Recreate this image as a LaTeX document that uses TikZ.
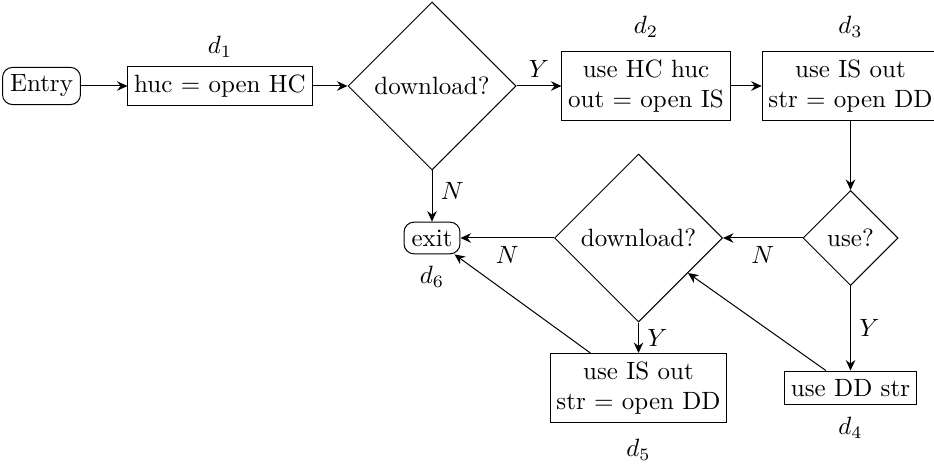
\documentclass[tikz,border=0pt]{standalone}
\usetikzlibrary{arrows.meta,positioning,shapes.geometric}

\begin{document}
\begin{tikzpicture}[
        on grid,
        term/.style={rectangle, draw, rounded corners=4pt, inner sep=3pt},  % entry and exit
        act/.style={rectangle, draw, align=center, inner xsep=2.5pt, inner ysep=3.3pt},
        ask/.style={diamond, draw, aspect=1, inner sep=0pt, minimum size=67.2pt},
        >={Stealth[length=4.2pt, width=3.8pt, inset=1.4pt]},
    ]
        \useasboundingbox (-16.6pt,34.4pt) rectangle (357pt,-152.4pt);

        %Nodes
        \node[term] (Entry) {Entry};
        \node[act] (Open) [right=71.4pt of Entry] {huc = open HC};
        \node[ask] (Ask) [right=84.8pt of Open] {download?};
        \node[act] (UseHC) [right=85.6pt of Ask] {use HC huc\\ out = open IS};
        \node[act] (UseIS) [right=81.8pt of UseHC] {use IS out\\ str = open DD};
        \node[ask, minimum size=38pt] (AskUse) [below=60.8pt of UseIS] {use?};
        \node[ask] (AskAgain) [left=84.8pt of AskUse] {download?};
        \node[term] (Exit) at (Ask |- AskAgain) {exit};
        \node[act] (UseISAgain) [below=60pt of AskAgain] {use IS out\\ str = open DD};
        \node[act] (UseDD) [below=60pt of AskUse] {use DD str};

        % Labels
        \node (D1) [above=15.6pt of Open] {$d_1$};
        \node (D2) [above=23.6pt of UseHC] {$d_2$};
        \node (D3) [above=23.6pt of UseIS] {$d_3$};
        \node (D4) [below=16pt of UseDD] {$d_4$};
        \node (D5) [below=24.8pt of UseISAgain] {$d_5$};
        \node (D6) [below=15.6pt of Exit] {$d_6$};

        %Lines
        \draw[->] (Entry.east) to (Open.west);
        \draw[->] (Open.east) to (Ask.west);
        \draw[->] (Ask.east) to node[above] {$Y$} (UseHC.west);
        \draw[->] (UseHC.east) to (UseIS.west);
        \draw[->] (UseIS.south) to (AskUse.north);
        \draw[->] (Ask.south) to node[right, pos=0.4] {$N$} (Exit.north);
        \draw[->] (AskUse.west) to node[below] {$N$} (AskAgain.east);
        \draw[->] (AskUse.south) to node[right] {$Y$} (UseDD.north);
        \draw[->] (AskAgain.west) to node[below] {$N$} (Exit.east);
        \draw[->] (AskAgain.south) to node[right] {$Y$} (UseISAgain.north);
        \draw[->] (UseDD) -- (AskAgain);
        \draw[->] (UseISAgain) -- (Exit);
    \end{tikzpicture}
\end{document}
